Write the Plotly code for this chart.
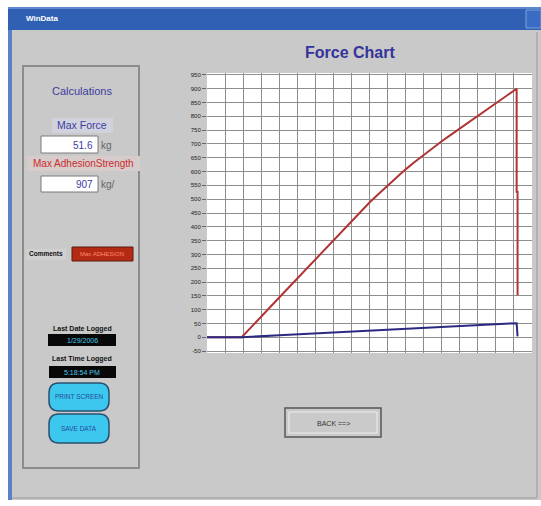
import plotly.graph_objects as go

# ---------------- data ----------------
y_ticks = list(range(-50, 1000, 50))
y_labels = [str(v) for v in y_ticks]

adhesion_x = [0, 1.92, 4.0, 6.0, 8.0, 8.5, 9.0, 9.5, 10.0, 10.5, 11.0, 11.5, 12.0, 12.5, 13.0, 13.5,
              14.0, 14.5, 15.0, 15.5, 16.0, 16.5, 17.0, 17.15, 17.15, 17.2, 17.2]
adhesion_y = [0, 0, 144, 282, 420, 454, 488, 519, 549, 579, 608, 635, 661, 686, 710, 733,
              756, 778, 801, 823, 846, 869, 892, 900, 527, 527, 152]

force_x = [0, 1.92, 4.0, 7.0, 10.0, 12.9, 15.0, 17.05, 17.15, 17.2]
force_y = [0, 0, 7, 17, 27, 38, 45, 52, 51, 3]

max_force = "51.6"
max_adhesion = "907"
last_date = "1/29/2006"
last_time = "5:18:54 PM"

# ---------------- geometry helpers (pixel -> paper) ----------------
W, H = 541, 506
PL, PR, PT, PB = 207, 532, 73, 353


def X(px):
    return (px - PL) / (PR - PL)


def Y(py):
    return (PB - py) / (PB - PT)


FONT = "Liberation Sans, Arial, sans-serif"
shapes = []
annotations = []


def rect(x0, y0, x1, y1, fill=None, line=None, lw=1):
    shapes.append(dict(type="rect", xref="paper", yref="paper",
                       x0=X(x0), x1=X(x1), y0=Y(y0), y1=Y(y1),
                       fillcolor=fill if fill else "rgba(0,0,0,0)",
                       line=dict(color=line if line else "rgba(0,0,0,0)", width=lw if line else 0),
                       layer="below"))


def rrect(x0, y0, x1, y1, r, fill, line, lw=1.5):
    p = (f"M {X(x0+r)},{Y(y0)} L {X(x1-r)},{Y(y0)} Q {X(x1)},{Y(y0)} {X(x1)},{Y(y0+r)} "
         f"L {X(x1)},{Y(y1-r)} Q {X(x1)},{Y(y1)} {X(x1-r)},{Y(y1)} "
         f"L {X(x0+r)},{Y(y1)} Q {X(x0)},{Y(y1)} {X(x0)},{Y(y1-r)} "
         f"L {X(x0)},{Y(y0+r)} Q {X(x0)},{Y(y0)} {X(x0+r)},{Y(y0)} Z")
    shapes.append(dict(type="path", xref="paper", yref="paper", path=p,
                       fillcolor=fill, line=dict(color=line, width=lw), layer="below"))


def hline(x0, x1, y, color, lw=1):
    shapes.append(dict(type="line", xref="paper", yref="paper", x0=X(x0), x1=X(x1), y0=Y(y), y1=Y(y),
                       line=dict(color=color, width=lw), layer="below"))


def vline(x, y0, y1, color, lw=1):
    shapes.append(dict(type="line", xref="paper", yref="paper", x0=X(x), x1=X(x), y0=Y(y0), y1=Y(y1),
                       line=dict(color=color, width=lw), layer="below"))


def text(px, py, t, size, color, anchor="center", bold=False):
    if bold:
        t = f"<b>{t}</b>"
    annotations.append(dict(xref="paper", yref="paper", x=X(px), y=Y(py), text=t,
                            showarrow=False, xanchor=anchor, yanchor="middle",
                            font=dict(family=FONT, size=size, color=color)))


# ---------------- window chrome ----------------
rect(8, 7, 541, 500, fill="#c9c9c9")
rect(8, 7, 12, 500, fill="#5b80c8")
rect(8, 7, 541, 30, fill="#2f60b4")
hline(8, 541, 8, "#6f95d8", 1.5)
rect(526, 10, 541, 28, fill="#3a6cc4", line="#7fa0d8", lw=1)
text(24, 18, "WinData", 8, "#ffffff", anchor="left", bold=True)
vline(537, 32, 498, "#9a9a9a", 1)
hline(12, 537, 498, "#9a9a9a", 1)

# plot area white background (drawn over gray window)
rect(PL, PT, PR, PB, fill="#ffffff")

# title
text(350, 52, "Force Chart", 16, "#34349a", bold=True)

# left panel
rect(23, 66, 139, 468, line="#8c8c8c", lw=2)
text(82, 91, "Calculations", 11, "#3d3d9e")

rect(52, 118, 113, 133, fill="#d2d2de")
text(82, 125, "Max Force", 10.5, "#3d3d9e")
rect(41, 136, 98, 153, fill="#ffffff", line="#7a7a7a", lw=1)
text(95, 145, max_force, 10, "#3d3d9e", anchor="right")
text(99, 145, "kg", 10, "#666666", anchor="left")

rect(27, 156, 140, 171, fill="#d6cccc")
text(83, 163, "Max AdhesionStrength", 10, "#cc2b2b")
rect(41, 176, 98, 192, fill="#ffffff", line="#7a7a7a", lw=1)
text(95, 184, max_adhesion, 10, "#3d3d9e", anchor="right")
text(99, 184, "kg/", 10, "#666666", anchor="left")

rect(26, 249, 66, 260, fill="#d0d0d0")
text(46, 254, "Comments", 6.5, "#111111", bold=True)
rect(72, 247, 133, 261, fill="#b42a12", line="#5a1a10", lw=1)
text(102, 254, "Max ADHESION", 6, "#ff8a70")

text(82, 329, "Last Date Logged", 7, "#111111", bold=True)
rect(48, 334, 116, 346, fill="#080808")
text(82, 340, last_date, 7, "#48c8e8")

text(82, 359, "Last Time Logged", 7, "#111111", bold=True)
rect(49, 366, 116, 378, fill="#080808")
text(82, 372, last_time, 7, "#48c8e8")

rrect(49, 383, 109, 411, 10, "#3cc8ee", "#2a5070", 1.5)
text(79, 397, "PRINT SCREEN", 6.5, "#2a4a9a")
rrect(49, 414, 109, 443, 10, "#3cc8ee", "#2a5070", 1.5)
text(79, 428, "SAVE DATA", 6.5, "#2a4a9a")

# back button
rect(285, 408, 381, 437, fill="#cacaca", line="#555555", lw=1.5)
rect(289, 412, 377, 433, line="#eeeeee", lw=1)
text(333, 423, "BACK ==>", 7, "#333333")

# ---------------- figure ----------------
fig = go.Figure()
fig.add_trace(go.Scatter(x=adhesion_x, y=adhesion_y, mode="lines",
                         line=dict(color="#b03434", width=2), showlegend=False, hoverinfo="skip"))
fig.add_trace(go.Scatter(x=force_x, y=force_y, mode="lines",
                         line=dict(color="#2a2a80", width=2), showlegend=False, hoverinfo="skip"))

fig.update_layout(
    width=W, height=H,
    margin=dict(l=PL, r=W - PR, t=PT, b=H - PB, pad=0),
    paper_bgcolor="#ffffff",
    plot_bgcolor="rgba(0,0,0,0)",
    shapes=shapes,
    annotations=annotations,
    showlegend=False,
    font=dict(family=FONT),
)
fig.update_xaxes(range=[0, 18], dtick=1, tick0=0, showticklabels=False, ticks="",
                 showgrid=True, gridcolor="#8e8e8e", gridwidth=1, zeroline=False, showline=False)
fig.update_yaxes(range=[-57, 957], tickvals=y_ticks, ticktext=y_labels,
                 tickfont=dict(size=6, color="#222222", family=FONT),
                 ticks="outside", ticklen=4, tickcolor="#666666",
                 showgrid=True, gridcolor="#8e8e8e", gridwidth=1, zeroline=False, showline=False)

fig.write_html("out.html", config={"displayModeBar": False},
               post_script="document.body.style.margin='0';document.body.style.overflow='hidden';")
